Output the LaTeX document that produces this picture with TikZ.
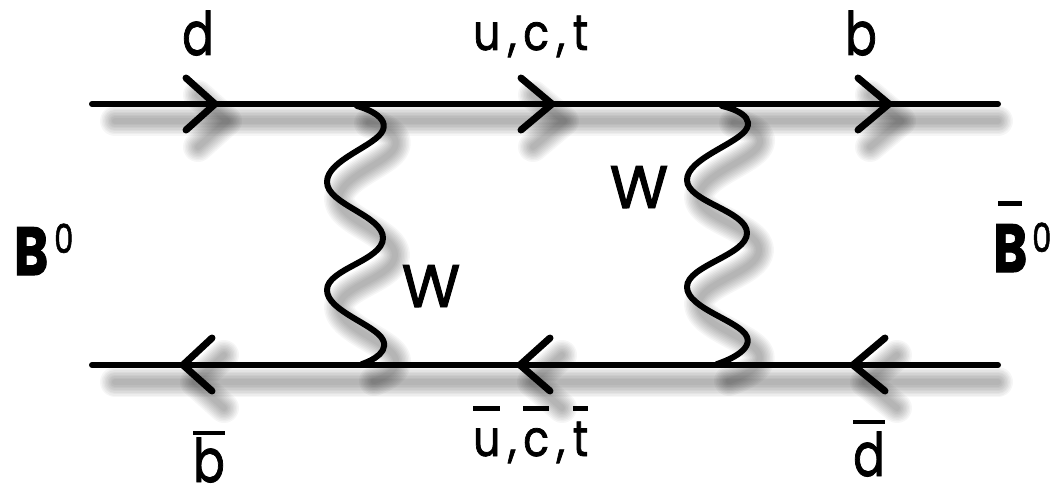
\documentclass[tikz,border=0pt]{standalone}
\usepackage{fontspec}
\setmainfont{Poppins}
\newlength{\barh}
\newcommand{\barred}[2]{\setbox0=\hbox{#2}\setlength{\barh}{#1}\rlap{\raisebox{\barh}{\rule{\wd0}{4.5pt}}}\box0}
\newcommand{\heavy}{\addfontfeature{FakeBold=1.6}}
\newcommand{\capB}{\scalebox{.76}[1]{\fontsize{68}{68}\selectfont\bfseries B}}
\newcommand{\zerosup}[1]{\raisebox{#1}{\scalebox{.76}[1]{\fontsize{40}{40}\selectfont 0}}}
\tikzset{
  ink/.style={draw=black,line width=#1,line cap=round,line join=round},
  ink/.default=6pt,
  lab/.style={inner sep=0pt,text=black,font=\fontsize{60}{60}\selectfont\heavy},
  narrowlab/.style={lab,xscale=.78,transform shape},
  smalllab/.style={inner sep=0pt,text=black,xscale=.85,transform shape,font=\fontsize{50}{50}\selectfont\heavy},
  hazy/.style={draw=black,line cap=round,line join=round,opacity=0.036}
}
\newcommand{\hazed}[1]{%
  \foreach \wid in {30,27,24,21,18,15,12,9,6}{
    \draw[hazy,line width=\wid pt,shift={(12,17)}] #1;
  }}
\begin{document}
\begin{tikzpicture}[x=1pt,y=-1pt]
\useasboundingbox[fill=white] (0,0) rectangle (1050,484);
% fermion line ends and vertices
\coordinate (tl) at (92,104);
\coordinate (tr) at (998,104);
\coordinate (bl) at (92,365);
\coordinate (br) at (998,365);
\coordinate (ta) at (357,106);
\coordinate (tb) at (722,106);
\coordinate (ba) at (362,364);
\coordinate (bb) at (717,364);
% shadows
\hazed{(103,104) -- (986,104)}
\hazed{(103,365) -- (986,365)}
\hazed{(186,78) -- (215,104) -- (186,130)}
\hazed{(521,78) -- (552,104) -- (521,130)}
\hazed{(858,78) -- (889,104) -- (858,130)}
\hazed{(212,338) -- (183,365) -- (212,391)}
\hazed{(550,338) -- (520,365) -- (550,391)}
\hazed{(885,338) -- (853,365) -- (885,391)}
\hazed{plot[smooth,tension=0.75] coordinates {(357,106) (383,130) (327,182) (383,238) (327,290) (383,340) (362,364)}}
\hazed{plot[smooth,tension=0.75] coordinates {(722,106) (747,128) (687,180) (747,233) (687,287) (747,337) (717,364)}}
% fermion lines
\draw[ink] (tl) -- (tr);
\draw[ink] (bl) -- (br);
% arrowheads
\draw[ink=7pt] (186,78) -- (215,104) -- (186,130);
\draw[ink=7pt] (521,78) -- (552,104) -- (521,130);
\draw[ink=7pt] (858,78) -- (889,104) -- (858,130);
\draw[ink=7pt] (212,338) -- (183,365) -- (212,391);
\draw[ink=7pt] (550,338) -- (520,365) -- (550,391);
\draw[ink=7pt] (885,338) -- (853,365) -- (885,391);
% W bosons
\draw[ink=6pt] plot[smooth,tension=0.75] coordinates {(ta) (383,130) (327,182) (383,238) (327,290) (383,340) (ba)};
\draw[ink=6pt] plot[smooth,tension=0.75] coordinates {(tb) (747,128) (687,180) (747,233) (687,287) (747,337) (bb)};
% labels
\node[narrowlab,anchor=base] (d) at (198,55) {d};
\node[smalllab,anchor=base west] (uct) at (473,50) {u\kern9pt,\kern8pt c\kern9pt,\kern9pt t};
\node[narrowlab,anchor=base] (b) at (861,55) {b};
\node[lab,anchor=base] (w1) at (431,307) {W};
\node[lab,anchor=base] (w2) at (639,208) {W};
\node[lab,anchor=base west] (b0) at (14,275) {\capB\kern6pt\zerosup{22pt}};
\node[lab,anchor=base west] (bb0) at (993,272) {\rlap{\kern5pt\raisebox{66pt}{\rule{24pt}{5pt}}}\capB\kern5pt\zerosup{20pt}};
\node[narrowlab,anchor=base] (bbar) at (209,482) {\barred{47pt}{b}};
\node[smalllab,anchor=base west] (ucbar) at (473,456) {\barred{45.5pt}{u}\kern9pt,\kern8pt\barred{45.5pt}{c}\kern9pt,\kern9pt\barred{45.5pt}{t}};
\node[narrowlab,anchor=base] (dbar) at (869,476) {\barred{52pt}{d}};
\end{tikzpicture}
\end{document}
